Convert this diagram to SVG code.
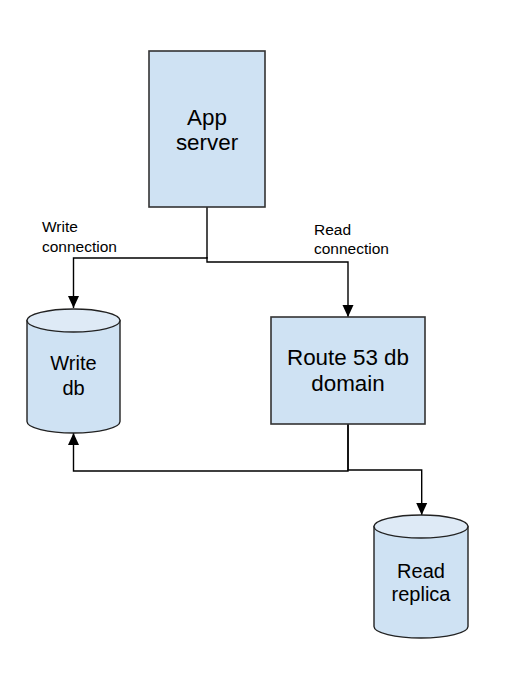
<svg xmlns="http://www.w3.org/2000/svg" width="523" height="692" viewBox="0 0 523 692">
<style>
.box{fill:#cfe2f3;stroke:#333;stroke-width:1.6}
.cyl{fill:#cfe2f3;stroke:#222;stroke-width:1.4}
.cap{fill:#deeaf6;stroke:#222;stroke-width:1.4}
.lbl{font-family:"Liberation Sans",Arial,sans-serif;font-size:22.4px;fill:#000;text-anchor:middle}
.clbl{font-family:"Liberation Sans",Arial,sans-serif;font-size:20px;fill:#000;text-anchor:middle}
.small{font-family:"Liberation Sans",Arial,sans-serif;font-size:15.5px;fill:#000}
.edge{fill:none;stroke:#000;stroke-width:1.4}
</style>
<defs>
<marker id="arr" markerUnits="userSpaceOnUse" markerWidth="12" markerHeight="14" viewBox="0 0 12 14" refX="12" refY="7" orient="auto">
<path d="M0,1.5 L12,7 L0,12.5 Z" fill="#000"/>
</marker>
</defs>
<rect width="523" height="692" fill="#fff"/>
<g id="connectors">
<path class="edge" d="M207,207 V258 H73.5 V308" marker-end="url(#arr)"/>
<path class="edge" d="M207,257 V262 H348 V317" marker-end="url(#arr)"/>
<path class="edge" d="M348,424 V471 H73.5 V433" marker-end="url(#arr)"/>
<path class="edge" d="M348,424 V470 H421.7 V515" marker-end="url(#arr)"/>
<text class="small" x="42" y="232">Write</text>
<text class="small" x="42" y="252">connection</text>
<text class="small" x="314" y="235">Read</text>
<text class="small" x="314" y="254">connection</text>
</g>
<g id="app-server">
<rect class="box" x="149" y="51" width="116" height="156"/>
<text class="lbl" x="207" y="125">App</text>
<text class="lbl" x="207" y="150">server</text>
</g>
<g id="route53">
<rect class="box" x="271" y="317" width="154" height="107"/>
<text class="lbl" x="348" y="365">Route 53 db</text>
<text class="lbl" x="348" y="391">domain</text>
</g>
<g id="write-db">
<path class="cyl" d="M27,320.5 V421.5 A46.5,11.5 0 0,0 120,421.5 V320.5 Z"/>
<ellipse class="cap" cx="73.5" cy="320.5" rx="46.5" ry="11.5"/>
<text class="clbl" x="73.5" y="370">Write</text>
<text class="clbl" x="73.5" y="395">db</text>
</g>
<g id="read-replica">
<path class="cyl" d="M374,526.5 V626.5 A47,11.5 0 0,0 468,626.5 V526.5 Z"/>
<ellipse class="cap" cx="421" cy="526.5" rx="47" ry="11.5"/>
<text class="clbl" x="421" y="578">Read</text>
<text class="clbl" x="421" y="601">replica</text>
</g>
</svg>
